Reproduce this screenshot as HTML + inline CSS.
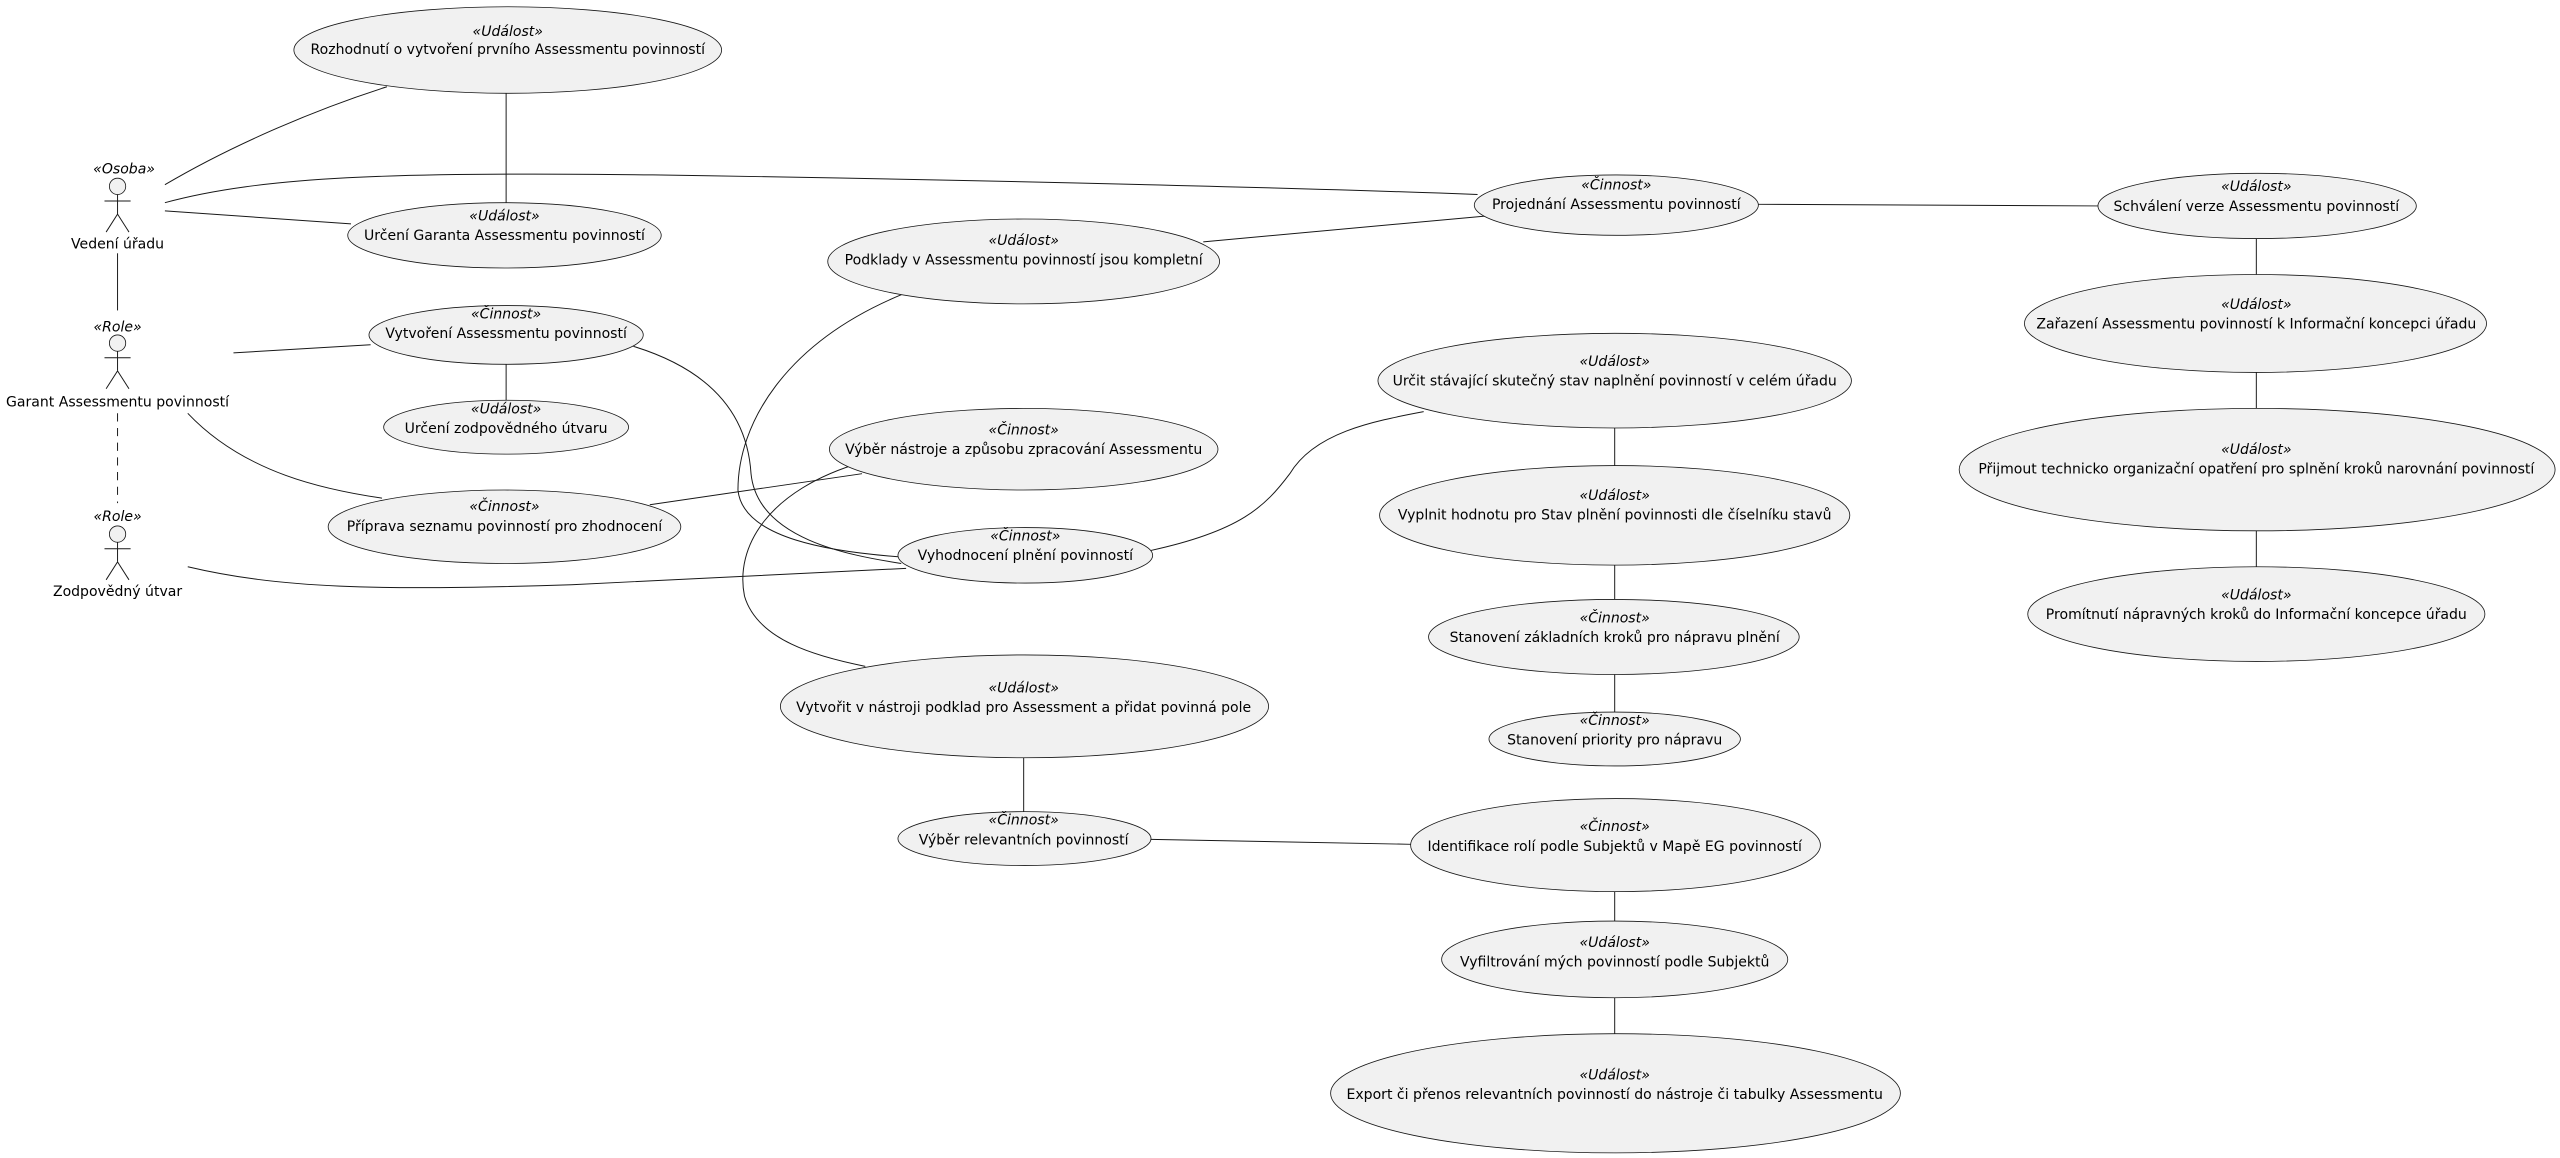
<!DOCTYPE html>
<html><head><meta charset="utf-8"><style>
html,body{margin:0;padding:0;background:#fff;}
svg{display:block;}
text{font-family:"DejaVu Sans","Liberation Sans",sans-serif;font-size:8.6px;fill:#000;text-anchor:middle;}
text.s{font-style:italic;}
ellipse{fill:#f1f1f1;stroke:#181818;stroke-width:0.5;}
path,line{stroke:#181818;stroke-width:0.6;fill:none;}
circle{fill:#f1f1f1;stroke:#181818;stroke-width:0.5;}
</style></head><body>
<svg width="2560" height="1158" viewBox="0 0 1568 709" xmlns="http://www.w3.org/2000/svg">
<!-- edges -->
<path d="M101,113 C140,90 190,68 237,53"/>
<path d="M101,124 C160,108 240,105 400,107 C600,110 800,115 905,119"/>
<line x1="101" y1="129" x2="215" y2="137"/>
<line x1="72" y1="155" x2="72" y2="190"/>
<line x1="72" y1="253" x2="72" y2="308" style="stroke-dasharray:5,4"/>
<line x1="310" y1="57" x2="310" y2="124"/>
<line x1="143" y1="216" x2="227" y2="211"/>
<line x1="310" y1="223" x2="310" y2="245"/>
<path d="M115,253 C150,290 200,300 234,305"/>
<line x1="398" y1="309" x2="528" y2="290"/>
<path d="M388,212 C440,228 458,258 460,290 C464,330 520,340 552,345"/>
<path d="M553,180 C480,210 452,260 452,300 C455,330 510,338 552,341"/>
<path d="M528,283 C470,300 450,335 456,365 C464,392 500,402 530,408"/>
<path d="M115,347 C170,360 230,362 350,358 L555,348"/>
<path d="M705,337 C760,325 775,310 790,290 C805,265 840,258 872,252"/>
<line x1="737" y1="148" x2="912" y2="132"/>
<line x1="1077" y1="125" x2="1285" y2="126"/>
<line x1="1382" y1="146" x2="1382" y2="168"/>
<line x1="1382" y1="228" x2="1382" y2="250"/>
<line x1="1382" y1="325" x2="1382" y2="347"/>
<line x1="989" y1="262" x2="989" y2="285"/>
<line x1="989" y1="346" x2="989" y2="367"/>
<line x1="989" y1="413" x2="989" y2="436"/>
<line x1="627" y1="464" x2="627" y2="497"/>
<line x1="705" y1="514" x2="864" y2="517"/>
<line x1="989" y1="546" x2="989" y2="564"/>
<line x1="989" y1="611" x2="989" y2="633"/>

<!-- actors -->
<g>
<text class="s" x="76" y="106">«Osoba»</text>
<circle cx="72" cy="114" r="5"/>
<line x1="72" y1="119" x2="72" y2="131"/><line x1="64" y1="123" x2="80" y2="123"/>
<line x1="72" y1="131" x2="65" y2="142"/><line x1="72" y1="131" x2="79" y2="142"/>
<text x="72" y="152">Vedení úřadu</text>
</g>
<g>
<text class="s" x="72" y="203">«Role»</text>
<circle cx="72" cy="210" r="5"/>
<line x1="72" y1="215" x2="72" y2="227"/><line x1="64" y1="219" x2="80" y2="219"/>
<line x1="72" y1="227" x2="65" y2="238"/><line x1="72" y1="227" x2="79" y2="238"/>
<text x="72" y="249">Garant Assessmentu povinností</text>
</g>
<g>
<text class="s" x="72" y="319">«Role»</text>
<circle cx="72" cy="327" r="5"/>
<line x1="72" y1="332" x2="72" y2="344"/><line x1="64" y1="336" x2="80" y2="336"/>
<line x1="72" y1="344" x2="65" y2="355"/><line x1="72" y1="344" x2="79" y2="355"/>
<text x="72" y="365">Zodpovědný útvar</text>
</g>

<!-- use cases -->
<ellipse cx="311" cy="30.5" rx="131" ry="26.5"/><text class="s" x="311" y="22">«Událost»</text><text x="311" y="33">Rozhodnutí o vytvoření prvního Assessmentu povinností</text>
<ellipse cx="309" cy="144" rx="96" ry="20"/><text class="s" x="309" y="135">«Událost»</text><text x="309" y="147">Určení Garanta Assessmentu povinností</text>
<ellipse cx="990" cy="125.5" rx="87" ry="18.5"/><text class="s" x="990" y="116">«Činnost»</text><text x="990" y="128">Projednání Assessmentu povinností</text>
<ellipse cx="1382.5" cy="126" rx="97.5" ry="20"/><text class="s" x="1382" y="117">«Událost»</text><text x="1382" y="129">Schválení verze Assessmentu povinností</text>
<ellipse cx="627" cy="160" rx="120" ry="26"/><text class="s" x="627" y="150">«Událost»</text><text x="627" y="162">Podklady v Assessmentu povinností jsou kompletní</text>
<ellipse cx="310" cy="205" rx="84" ry="18"/><text class="s" x="310" y="195">«Činnost»</text><text x="310" y="207">Vytvoření Assessmentu povinností</text>
<ellipse cx="310" cy="261.5" rx="75" ry="16.5"/><text class="s" x="310" y="253">«Událost»</text><text x="310" y="265">Určení zodpovědného útvaru</text>
<ellipse cx="309" cy="322.5" rx="108" ry="22.5"/><text class="s" x="309" y="313">«Činnost»</text><text x="309" y="325">Příprava seznamu povinností pro zhodnocení</text>
<ellipse cx="627" cy="275" rx="119" ry="25"/><text class="s" x="627" y="266">«Činnost»</text><text x="627" y="278">Výběr nástroje a způsobu zpracování Assessmentu</text>
<ellipse cx="628" cy="340" rx="78" ry="17"/><text class="s" x="628" y="331">«Činnost»</text><text x="628" y="343">Vyhodnocení plnění povinností</text>
<ellipse cx="989" cy="233" rx="145" ry="29"/><text class="s" x="989" y="224">«Událost»</text><text x="989" y="236">Určit stávající skutečný stav naplnění povinností v celém úřadu</text>
<ellipse cx="989" cy="315.5" rx="144" ry="30.5"/><text class="s" x="989" y="306">«Událost»</text><text x="989" y="318">Vyplnit hodnotu pro Stav plnění povinnosti dle číselníku stavů</text>
<ellipse cx="988.5" cy="390" rx="113.5" ry="23"/><text class="s" x="989" y="381">«Činnost»</text><text x="989" y="393">Stanovení základních kroků pro nápravu plnění</text>
<ellipse cx="989" cy="452.5" rx="77" ry="16.5"/><text class="s" x="989" y="444">«Činnost»</text><text x="989" y="456">Stanovení priority pro nápravu</text>
<ellipse cx="1381.5" cy="198" rx="141.5" ry="30"/><text class="s" x="1382" y="189">«Událost»</text><text x="1382" y="201">Zařazení Assessmentu povinností k Informační koncepci úřadu</text>
<ellipse cx="1382.5" cy="287.5" rx="182.5" ry="37.5"/><text class="s" x="1382" y="278">«Událost»</text><text x="1382" y="290">Přijmout technicko organizační opatření pro splnění kroků narovnání povinností</text>
<ellipse cx="1382" cy="376" rx="140" ry="29"/><text class="s" x="1382" y="367">«Událost»</text><text x="1382" y="379">Promítnutí nápravných kroků do Informační koncepce úřadu</text>
<ellipse cx="627.5" cy="432.5" rx="149.5" ry="31.5"/><text class="s" x="627" y="424">«Událost»</text><text x="627" y="436">Vytvořit v nástroji podklad pro Assessment a přidat povinná pole</text>
<ellipse cx="627.5" cy="513.5" rx="77.5" ry="16.5"/><text class="s" x="627" y="505">«Činnost»</text><text x="627" y="517">Výběr relevantních povinností</text>
<ellipse cx="989.5" cy="517.5" rx="125.5" ry="28.5"/><text class="s" x="989" y="509">«Činnost»</text><text x="989" y="521">Identifikace rolí podle Subjektů v Mapě EG povinností</text>
<ellipse cx="989" cy="587.5" rx="106" ry="23.5"/><text class="s" x="989" y="580">«Událost»</text><text x="989" y="592">Vyfiltrování mých povinností podle Subjektů</text>
<ellipse cx="989.5" cy="669.5" rx="174.5" ry="36.5"/><text class="s" x="989" y="661">«Událost»</text><text x="989" y="673">Export či přenos relevantních povinností do nástroje či tabulky Assessmentu</text>
</svg>
</body></html>
